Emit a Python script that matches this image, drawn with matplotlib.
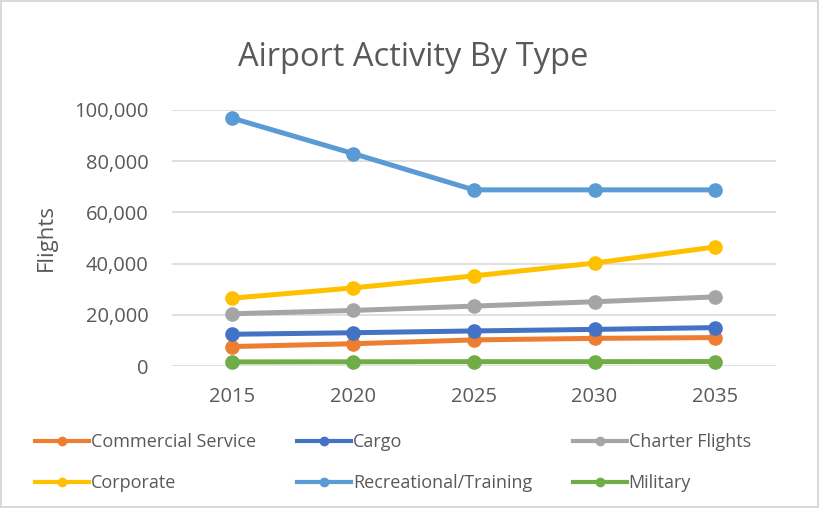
import matplotlib.pyplot as plt
from matplotlib.ticker import FuncFormatter

# data
years = ['2015', '2020', '2025', '2030', '2035']
commercial = [7600, 8700, 10200, 10800, 11100]
cargo = [12400, 13000, 13700, 14300, 15000]
charter = [20400, 21700, 23400, 25100, 27000]
corporate = [26500, 30500, 35200, 40200, 46500]
recreational = [96800, 83000, 68800, 68800, 68800]
military = [1600, 1650, 1700, 1700, 1750]

series = [
    ('Commercial Service', commercial, '#ED7D31'),
    ('Cargo', cargo, '#4472C4'),
    ('Charter Flights', charter, '#A5A5A5'),
    ('Corporate', corporate, '#FFC000'),
    ('Recreational/Training', recreational, '#5B9BD5'),
    ('Military', military, '#70AD47'),
]

plt.rcParams['font.family'] = ['Open Sans', 'DejaVu Sans']
txt = '#595959'

fig = plt.figure(figsize=(8.19, 5.08), dpi=100)
fig.patch.set_edgecolor('#D9D9D9')
fig.patch.set_linewidth(1.5)
ax = fig.add_axes([0.21, 0.2795, 0.737, 0.504])

x = list(range(len(years)))
for name, vals, col in series:
    ax.plot(x, vals, color=col, lw=3.6, marker='o', ms=9.5,
            label=name, clip_on=False, zorder=3)

ax.set_xlim(-0.5, len(years) - 0.5)
ax.set_ylim(0, 100000)
ax.set_yticks(range(0, 100001, 20000))
ax.yaxis.set_major_formatter(FuncFormatter(lambda v, p: f'{int(v):,}'))
ax.set_xticks(x)
ax.set_xticklabels(years)
ax.grid(axis='y', color='#D9D9D9', lw=1.2)
ax.set_axisbelow(True)
for s in ax.spines.values():
    s.set_visible(False)
ax.tick_params(axis='both', length=0, labelsize=14.5, colors=txt)
ax.tick_params(axis='y', pad=17)
ax.tick_params(axis='x', pad=15)

ax.set_ylabel('Flights', fontsize=16, color=txt, labelpad=12)
fig.text(0.505, 0.887, 'Airport Activity By Type', ha='center', va='center',
         fontsize=23.5, color=txt)

# legend handles: thinner lines with small markers, as in the Excel legend
leg_handles = {}
for name, vals, col in series:
    leg_handles[name] = plt.Line2D([], [], color=col, lw=3, marker='o', ms=6)

# matplotlib fills legend columns first, so reorder to get Excel's row order
order = ['Commercial Service', 'Corporate', 'Cargo', 'Recreational/Training',
         'Charter Flights', 'Military']
leg = fig.legend([leg_handles[n] for n in order], order, ncol=3,
                 loc='upper left', bbox_to_anchor=(0.034, 0.161),
                 frameon=False, fontsize=13, handlelength=3.0,
                 handletextpad=0.1, columnspacing=2.25, labelspacing=1.25,
                 borderaxespad=0)
for t in leg.get_texts():
    t.set_color(txt)

fig.savefig('out.png', dpi=100)
